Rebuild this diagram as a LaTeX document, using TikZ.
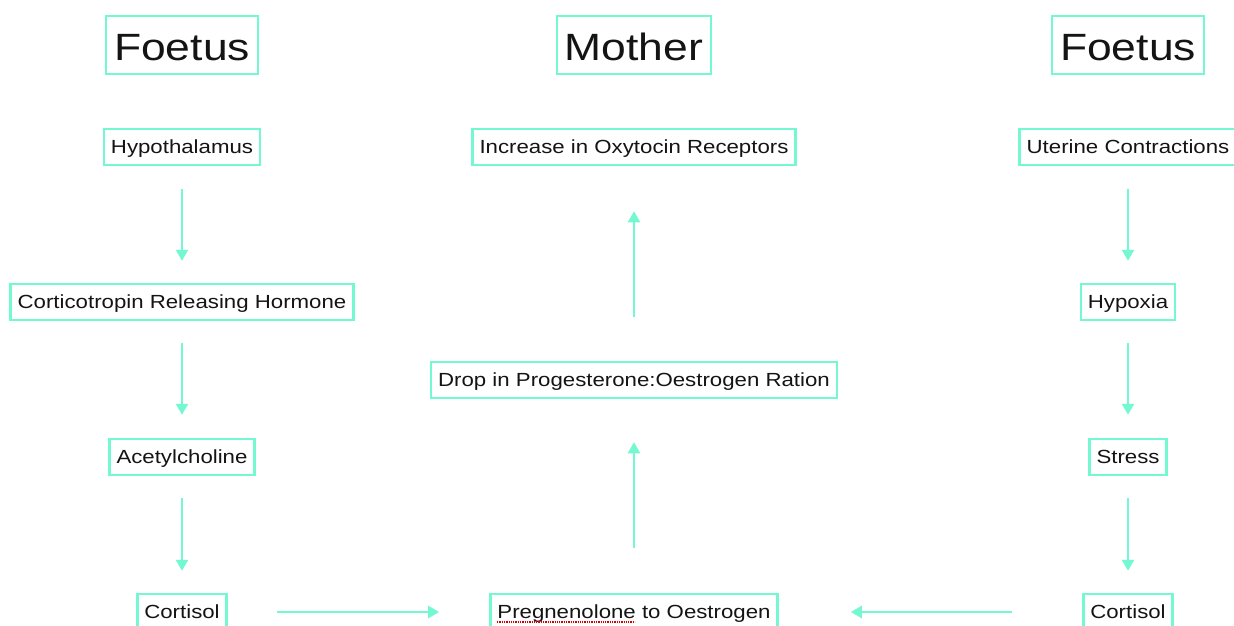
\documentclass[tikz,border=0pt]{standalone}
\usepackage{fontspec}
\setmainfont[FakeStretch=1.17]{Liberation Sans}
\usetikzlibrary{arrows.meta}
\definecolor{aqua}{RGB}{115,248,210}
\begin{document}
\begin{tikzpicture}[x=1pt,y=-1pt,
  box/.style={draw=aqua, line width=2.5pt, fill=white, inner xsep=7pt, inner ysep=0pt,
    text height=13.6pt, text depth=0pt,
    minimum height=36pt, font=\fontsize{19}{19}\selectfont, text=black!92},
  title/.style={box, minimum height=58pt, inner xsep=8pt, text height=30pt,
    font=\fontsize{38}{38}\selectfont},
  arr/.style={draw=aqua, line width=2.5pt, -{Triangle[width=12pt,length=11pt]}}]
\clip (0,0) rectangle (1234,625);
% titles
\node[title] (f1) at (182,45) {Foetus};
\node[title] (m) at (634,45) {Mother};
\node[title] (f2) at (1128,45) {Foetus};
% left column
\node[box] (hyp) at (182,147) {Hypothalamus};
\node[box] (crh) at (182,302) {Corticotropin Releasing Hormone};
\node[box] (ach) at (182,457) {Acetylcholine};
\node[box] (cor1) at (182,612) {Cortisol};
% middle column
\node[box] (oxy) at (634,147) {Increase in Oxytocin Receptors};
\node[box] (drop) at (634,380) {Drop in Progesterone:Oestrogen Ration};
\node[box] (preg) at (634,612) {Pregnenolone to Oestrogen};
% right column
\node[box] (ut) at (1128,147) {Uterine Contractions};
\node[box] (hpx) at (1128,302) {Hypoxia};
\node[box] (str) at (1128,457) {Stress};
\node[box] (cor2) at (1128,612) {Cortisol};
% spell-check underline
\draw[red!85!black, densely dotted, line width=1.3pt] (497,622) -- (635,622);
% arrows
\draw[arr, shorten <=23pt, shorten >=22pt] (hyp) -- (crh);
\draw[arr, shorten <=22pt, shorten >=23pt] (crh) -- (ach);
\draw[arr, shorten <=22pt, shorten >=22pt] (ach) -- (cor1);
\draw[arr, shorten <=23pt, shorten >=22pt] (ut) -- (hpx);
\draw[arr, shorten <=22pt, shorten >=23pt] (hpx) -- (str);
\draw[arr, shorten <=22pt, shorten >=22pt] (str) -- (cor2);
\draw[arr, shorten <=45pt, shorten >=43pt] (preg) -- (drop);
\draw[arr, shorten <=44pt, shorten >=45pt] (drop) -- (oxy);
\draw[arr, shorten <=49pt, shorten >=50pt] (cor1) -- (preg);
\draw[arr, shorten <=70pt, shorten >=72pt] (cor2) -- (preg);
\end{tikzpicture}
\end{document}
